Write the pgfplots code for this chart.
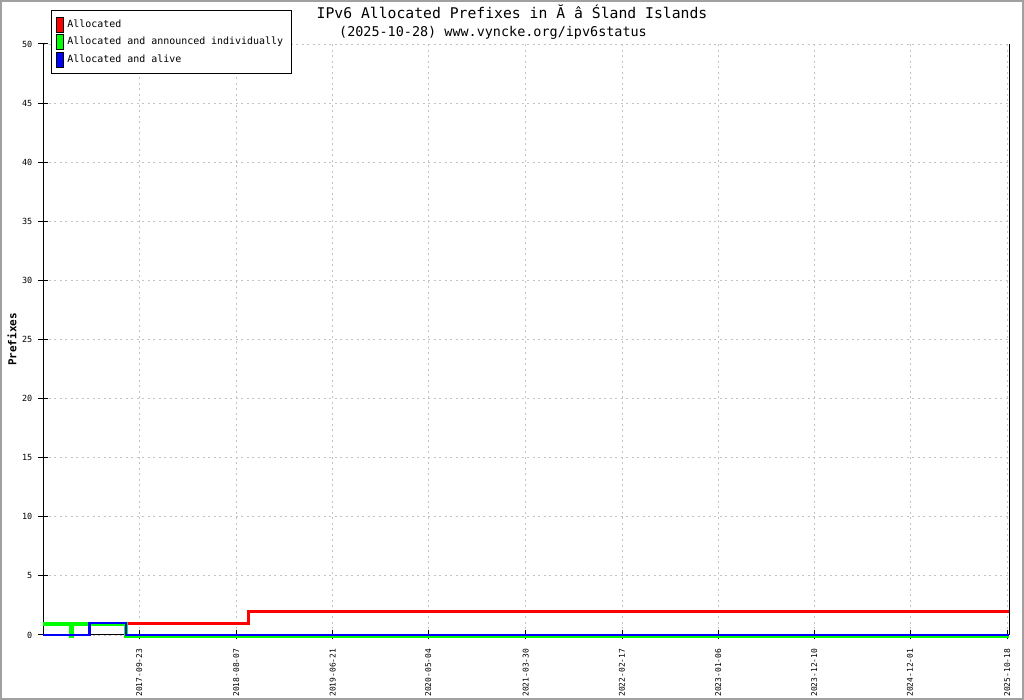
\documentclass[border=0pt]{standalone}
\usepackage{fontspec}
\setmainfont{DejaVu Sans Mono}
\usepackage{pgfplots}
\pgfplotsset{compat=1.18}
\definecolor{gridgray}{RGB}{195,195,195}
\definecolor{framegray}{RGB}{160,160,160}
\begin{document}
\begin{tikzpicture}[x=1bp,y=1bp]
\path[use as bounding box] (0,0) rectangle (1024,700);
\draw[framegray, line width=2bp] (1,1) rectangle (1023,699);
\begin{axis}[
  at={(43bp,65bp)}, anchor=south west,
  scale only axis, width=966bp, height=591bp,
  xmin=43, xmax=1009, ymin=0, ymax=50,
  clip=false,
  axis lines=left,
  axis line style={-, black, line width=1bp},
  tick style={black, line width=1bp},
  tick align=center, major tick length=9bp,
  xtick={139.3,236.3,332.7,428.3,525.7,622,718.3,814.3,910,1007.3},
  xticklabels={2017-09-23,2018-08-07,2019-06-21,2020-05-04,2021-03-30,2022-02-17,2023-01-06,2023-12-10,2024-12-01,2025-10-18},
  ytick={0,5,...,50},
  /pgf/number format/assume math mode=true,
  xticklabel style={rotate=90, anchor=east, inner sep=0pt, font=\fontsize{8}{8}\selectfont},
  xticklabel shift=9bp,
  yticklabel style={anchor=east, inner sep=0pt, font=\fontsize{8.5}{8.5}\selectfont, xshift=-6bp},
  grid=major,
  major grid style={gridgray, line width=0.8bp, dash pattern=on 2bp off 3.5bp},
  ylabel={\bfseries Prefixes},
  ylabel style={at={(axis description cs:-0.0321,0.5)}, anchor=center, font=\fontsize{11}{11}\selectfont},
  title={{\fontsize{14.8}{18}\selectfont IPv6 Allocated Prefixes in Ă â Śland Islands}\\{\fontsize{13.5}{18}\selectfont (2025-10-28) www.vyncke.org/ipv6status\hspace*{38bp}}},
  title style={at={(axis description cs:0.4855,1)}, anchor=south, align=center, inner sep=0pt, yshift=-2bp, font=\fontsize{14}{18}\selectfont},
  legend style={at={(axis description cs:0.00828,1.0575)}, anchor=north west, draw=black, line width=1bp, font=\fontsize{10}{10}\selectfont, inner xsep=4bp, inner ysep=6.5bp, row sep=1.5bp, cells={anchor=west}, nodes={inner xsep=4bp}},
  legend cell align=left,
  after end axis/.code={\draw[black, line width=1bp] (rel axis cs:1,0) -- (rel axis cs:1,1);},
]
\addplot[const plot, red, line width=3bp,
  legend image code/.code={\draw[draw=black, line width=0.8bp, fill=red] (0bp,-7.5bp) rectangle (7bp,7.5bp);}]
  coordinates {(43,1) (248.3,2) (1009,2)};
\addlegendentry{Allocated}
\addplot[const plot, green, line width=3.5bp, yshift=-0.8bp,
  legend image code/.code={\draw[draw=black, line width=0.8bp, fill=green] (0bp,-7.5bp) rectangle (7bp,7.5bp);}]
  coordinates {(43,1) (70.7,0) (72.7,1) (126,0) (1009,0)};
\addlegendentry{Allocated and announced individually}
\addplot[const plot, blue, line width=2.5bp,
  legend image code/.code={\draw[draw=black, line width=0.8bp, fill=blue] (0bp,-7.5bp) rectangle (7bp,7.5bp);}]
  coordinates {(43,0) (89.3,1) (126,0) (1009,0)};
\addlegendentry{Allocated and alive}
\end{axis}
\end{tikzpicture}
\end{document}
